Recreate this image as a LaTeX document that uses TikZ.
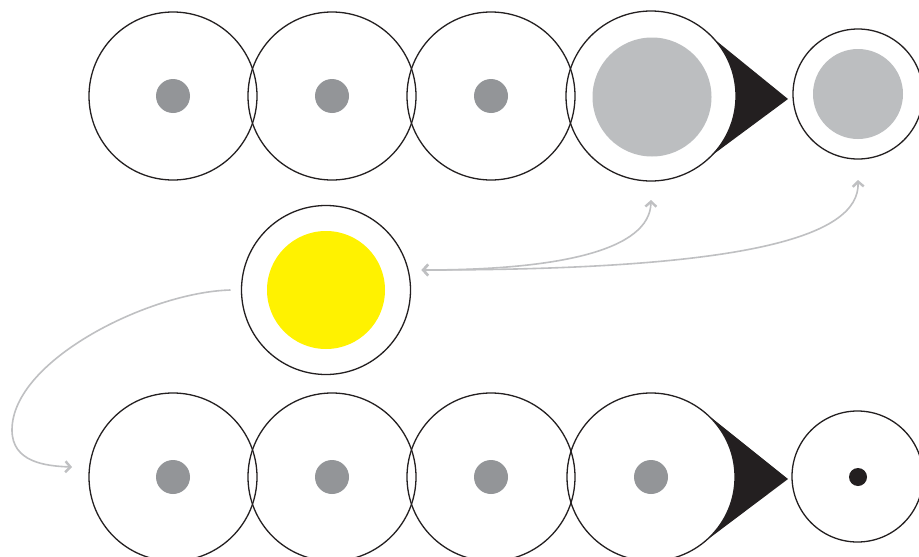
\documentclass[tikz,border=0pt]{standalone}
\usetikzlibrary{arrows.meta}
\definecolor{ink}{HTML}{231F20}
\definecolor{dotgray}{HTML}{939598}
\definecolor{lightgray}{HTML}{BCBEC0}
\definecolor{arrowgray}{HTML}{BFC0C2}
\definecolor{sun}{HTML}{FFF200}
\begin{document}
\begin{tikzpicture}[x=1pt,y=-1pt,
  ring/.style={circle,draw=ink,line width=1.3pt,minimum size=#1,inner sep=0pt,outer sep=0pt},
  disc/.style={circle,fill=#1,draw=none,inner sep=0pt,outer sep=0pt},
  seed/.style={disc=dotgray,minimum size=34pt},
  flow/.style={draw=arrowgray,line width=1.6pt,
    arrows={-Straight Barb[length=5pt,width=11pt,line width=2.4pt]}},
  flowboth/.style={draw=arrowgray,line width=1.6pt,
    arrows={Straight Barb[length=5pt,width=11pt,line width=2.4pt]-Straight Barb[length=5pt,width=11pt,line width=2.4pt]}},
  wedge/.style={fill=ink,draw=none}]
\useasboundingbox (0,0) rectangle (919,557);
\fill[white] (0,0) rectangle (919,557);

% --- top row ---
\fill[wedge] (788,99) -- (702.7,29.8) -- (651,96) -- (702.7,162.2) -- cycle;
\node[ring=170pt,fill=white] (t4) at (651,96) {};
\node[ring=168pt] (t1) at (173,96) {};
\node[ring=168pt] (t2) at (332,96) {};
\node[ring=168pt] (t3) at (491,96) {};
\node[seed] (t1d) at (173,96) {};
\node[seed] (t2d) at (332,96) {};
\node[seed] (t3d) at (491,96) {};
\node[disc=lightgray,minimum size=119pt] (t4d) at (652,97) {};
\node[ring=130pt] (t5) at (858,94) {};
\node[disc=lightgray,minimum size=90pt] (t5d) at (858,94) {};

% --- middle ---
\node[ring=169pt] (m) at (326,290) {};
\node[disc=sun,minimum size=118pt] (md) at (326,290) {};

% --- bottom row ---
\fill[wedge] (788,479) -- (702.7,410.8) -- (651,477) -- (702.7,543.2) -- cycle;
\node[ring=168pt,fill=white] (b4) at (651,477) {};
\node[ring=168pt] (b1) at (173,477) {};
\node[ring=168pt] (b2) at (332,477) {};
\node[ring=168pt] (b3) at (491,477) {};
\node[seed] (b1d) at (173,477) {};
\node[seed] (b2d) at (332,477) {};
\node[seed] (b3d) at (491,477) {};
\node[seed] (b4d) at (651,477) {};
\node[ring=131pt] (b5) at (857.5,476.5) {};
\node[disc=ink,minimum size=18pt] (b5d) at (858,477) {};

% --- connectors ---
\coordinate (aL) at ([xshift=11pt,yshift=20pt]m.east);
\coordinate (aM) at ([yshift=-19pt]t4.south);
\coordinate (aR) at ([yshift=-21pt]t5.south);
\coordinate (lS) at ([xshift=-11pt]m.west);
\coordinate (lE) at ([xshift=-17pt,yshift=10pt]b1.west);

\draw[flowboth] (aL) .. controls (560,270) and (650,250) .. (aM);
\draw[flowboth] (aL) .. controls (740,270) and (860,238) .. (aR);
\draw[flow] (lS) .. controls (150,292) and (12,360) .. (12,430)
  .. controls (12,462) and (45,466) .. (lE);
\end{tikzpicture}
\end{document}
